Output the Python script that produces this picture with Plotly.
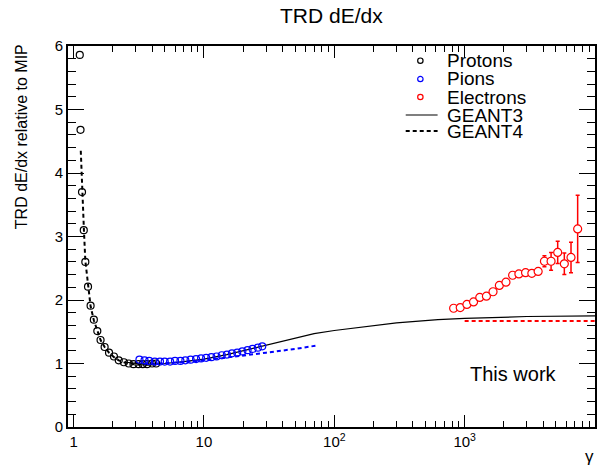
import plotly.graph_objects as go

# ---------------- data ----------------
proton_gamma = [1.115, 1.13, 1.16, 1.197, 1.23, 1.29, 1.35, 1.43, 1.52, 1.61, 1.73, 1.87,
                2.04, 2.22, 2.43, 2.65, 2.88, 3.15, 3.39, 3.66, 4.0, 4.3]
proton_dedx = [5.86, 4.68, 3.70, 3.10, 2.60, 2.21, 1.91, 1.69, 1.51, 1.37, 1.26, 1.17,
               1.11, 1.05, 1.02, 1.00, 0.99, 0.99, 0.99, 0.99, 1.00, 1.00]

pion_gamma = [3.2, 3.5, 3.8, 4.2, 4.6, 5.0, 5.5, 6.0, 6.6, 7.2, 7.9, 8.7, 9.5, 10.4,
              11.4, 12.5, 13.7, 15.0, 16.4, 18.0, 19.7, 21.6, 23.6, 25.9, 28.0]
pion_dedx = [1.06, 1.05, 1.04, 1.03, 1.03, 1.03, 1.03, 1.04, 1.04, 1.05, 1.06, 1.07, 1.08,
             1.09, 1.10, 1.11, 1.13, 1.14, 1.16, 1.17, 1.19, 1.21, 1.23, 1.25, 1.27]

electron_gamma = [823, 925, 1041, 1170, 1306, 1469, 1651, 1846, 2075, 2333, 2607, 2933,
                  3276, 3663, 4093, 4603, 5173, 5817, 6546, 7362]
electron_dedx = [1.87, 1.88, 1.93, 1.97, 2.04, 2.06, 2.13, 2.23, 2.28, 2.39, 2.41, 2.43,
                 2.42, 2.45, 2.61, 2.61, 2.75, 2.57, 2.67, 3.12]
electron_err = [0.02, 0.02, 0.02, 0.02, 0.02, 0.02, 0.02, 0.02, 0.02, 0.03, 0.03, 0.03,
                0.03, 0.03, 0.085, 0.14, 0.175, 0.17, 0.24, 0.53]

geant3_gamma = [2.5, 3.0, 3.5, 4.0, 5.0, 7.0, 10, 15, 20, 30, 50, 70, 100, 200, 300,
                624, 1000, 3000, 10000]
geant3_dedx = [1.02, 1.00, 0.99, 0.99, 1.00, 1.03, 1.07, 1.14, 1.20, 1.29, 1.40, 1.47,
               1.52, 1.60, 1.64, 1.69, 1.71, 1.74, 1.75]

geant4_p_gamma = [1.135, 1.16, 1.2, 1.23, 1.29, 1.35, 1.43, 1.52, 1.61, 1.73, 1.87, 2.04,
                  2.22, 2.43, 2.65, 2.9, 3.2, 3.6, 4.0]
geant4_p_dedx = [4.35, 3.75, 3.10, 2.62, 2.20, 1.90, 1.68, 1.50, 1.37, 1.26, 1.17, 1.10,
                 1.05, 1.02, 1.00, 0.99, 0.98, 0.98, 0.98]

geant4_pi_gamma = [3.5, 5, 7, 10, 16.5, 30, 50, 72]
geant4_pi_dedx = [0.99, 1.00, 1.02, 1.05, 1.11, 1.17, 1.23, 1.28]

geant4_e_gamma = [1000, 10000]
geant4_e_dedx = [1.67, 1.67]

x_tickvals = [1, 10, 100, 1000, 10000]
x_ticktext = ["1", "10", "10<sup>2</sup>", "10<sup>3</sup>", "10<sup>4</sup>"]
x_minor = [2, 3, 4, 5, 6, 7, 8, 9, 20, 30, 40, 50, 60, 70, 80, 90,
           200, 300, 400, 500, 600, 700, 800, 900, 2000, 3000, 4000, 5000, 6000, 7000, 8000, 9000]
y_tickvals = [0, 1, 2, 3, 4, 5, 6]

legend_labels = ["Protons", "Pions", "Electrons", "GEANT3", "GEANT4"]

FONT = "Liberation Sans, Arial, Helvetica, sans-serif"
BLUE = "#0000ff"
RED = "#ff0000"

fig = go.Figure()

fig.add_trace(go.Scatter(x=geant3_gamma, y=geant3_dedx, mode="lines",
                         line=dict(color="black", width=1.2), showlegend=False))
fig.add_trace(go.Scatter(x=geant4_p_gamma, y=geant4_p_dedx, mode="lines",
                         line=dict(color="black", width=2, dash="4px,3px"), showlegend=False))
fig.add_trace(go.Scatter(x=geant4_pi_gamma, y=geant4_pi_dedx, mode="lines",
                         line=dict(color=BLUE, width=2, dash="4px,3px"), showlegend=False))
fig.add_trace(go.Scatter(x=geant4_e_gamma, y=geant4_e_dedx, mode="lines",
                         line=dict(color=RED, width=2, dash="4px,3px"), showlegend=False))

mk = dict(symbol="circle-open", size=7, line=dict(width=1.2))
fig.add_trace(go.Scatter(x=proton_gamma, y=proton_dedx, mode="markers",
                         marker=dict(mk, color="black"), showlegend=False))
fig.add_trace(go.Scatter(x=pion_gamma, y=pion_dedx, mode="markers",
                         marker=dict(mk, color=BLUE), showlegend=False))
fig.add_trace(go.Scatter(x=electron_gamma, y=electron_dedx, mode="markers",
                         marker=dict(symbol="circle", size=8, color="white",
                                     line=dict(width=1.2, color=RED)),
                         error_y=dict(type="data", array=electron_err, color=RED,
                                      thickness=1.5, width=2),
                         showlegend=False))

# plot area pixel geometry
L, R, T, B = 68, 597, 46, 427
W, H = R - L, B - T
def px(x):
    return (x - L) / W
def py(y):
    return (B - y) / H

annotations = []
shapes = []
row_y = [60.7, 79, 97, 115, 131]
colors = ["black", BLUE, RED]
for i, lab in enumerate(legend_labels):
    yy = py(row_y[i])
    annotations.append(dict(x=px(446), y=yy, xref="paper", yref="paper", text=lab,
                            showarrow=False, xanchor="left", yanchor="middle",
                            font=dict(family=FONT, size=19, color="black")))
    if i < 3:
        shapes.append(dict(type="circle", xref="paper", yref="paper", xsizemode="pixel",
                           ysizemode="pixel", xanchor=px(421.7), yanchor=yy,
                           x0=-2.7, x1=2.7, y0=-2.7, y1=2.7,
                           line=dict(color=colors[i], width=1.2)))
    else:
        shapes.append(dict(type="line", xref="paper", yref="paper",
                           x0=px(407), x1=px(439), y0=yy, y1=yy,
                           line=dict(color="black", width=1.2 if i == 3 else 2,
                                     dash="solid" if i == 3 else "4px,3px")))

annotations += [
    dict(x=px(332), y=py(16), xref="paper", yref="paper", text="TRD dE/dx", showarrow=False,
         xanchor="center", yanchor="middle", font=dict(family=FONT, size=21, color="black")),
    dict(x=px(21), y=py(137), xref="paper", yref="paper", text="TRD dE/dx relative to MIP",
         showarrow=False, textangle=-90, xanchor="center", yanchor="middle",
         font=dict(family=FONT, size=16, color="black")),
    dict(x=px(591), y=py(456), xref="paper", yref="paper", text="γ", showarrow=False,
         xanchor="center", yanchor="middle", font=dict(family=FONT, size=17, color="black")),
    dict(x=px(515), y=py(374), xref="paper", yref="paper", text="This work", showarrow=False,
         xanchor="center", yanchor="middle", font=dict(family=FONT, size=20, color="black")),
]

fig.update_layout(
    width=606, height=468,
    margin=dict(l=L, r=606 - R, t=T, b=468 - B),
    paper_bgcolor="white", plot_bgcolor="white",
    showlegend=False,
    annotations=annotations, shapes=shapes,
    font=dict(family=FONT, size=15, color="black"),
)
fig.update_xaxes(type="log", range=[-0.043, 4], showgrid=False, zeroline=False,
                 showline=True, linecolor="black", linewidth=2, mirror="allticks",
                 ticks="inside", ticklen=12, tickwidth=1, tickcolor="black",
                 tickmode="array", tickvals=x_tickvals, ticktext=x_ticktext,
                 tickfont=dict(family=FONT, size=15),
                 minor=dict(ticks="inside", ticklen=6, tickwidth=1, tickcolor="black",
                            tickmode="array", tickvals=x_minor, showgrid=False))
fig.update_yaxes(range=[0, 6], showgrid=False, zeroline=False,
                 showline=True, linecolor="black", linewidth=2, mirror="allticks",
                 ticks="inside", ticklen=16, tickwidth=1, tickcolor="black",
                 tickmode="array", tickvals=y_tickvals,
                 tickfont=dict(family=FONT, size=15),
                 minor=dict(ticks="inside", ticklen=8, tickwidth=1, tickcolor="black",
                            dtick=0.2, showgrid=False))

fig.write_html("out.html")
